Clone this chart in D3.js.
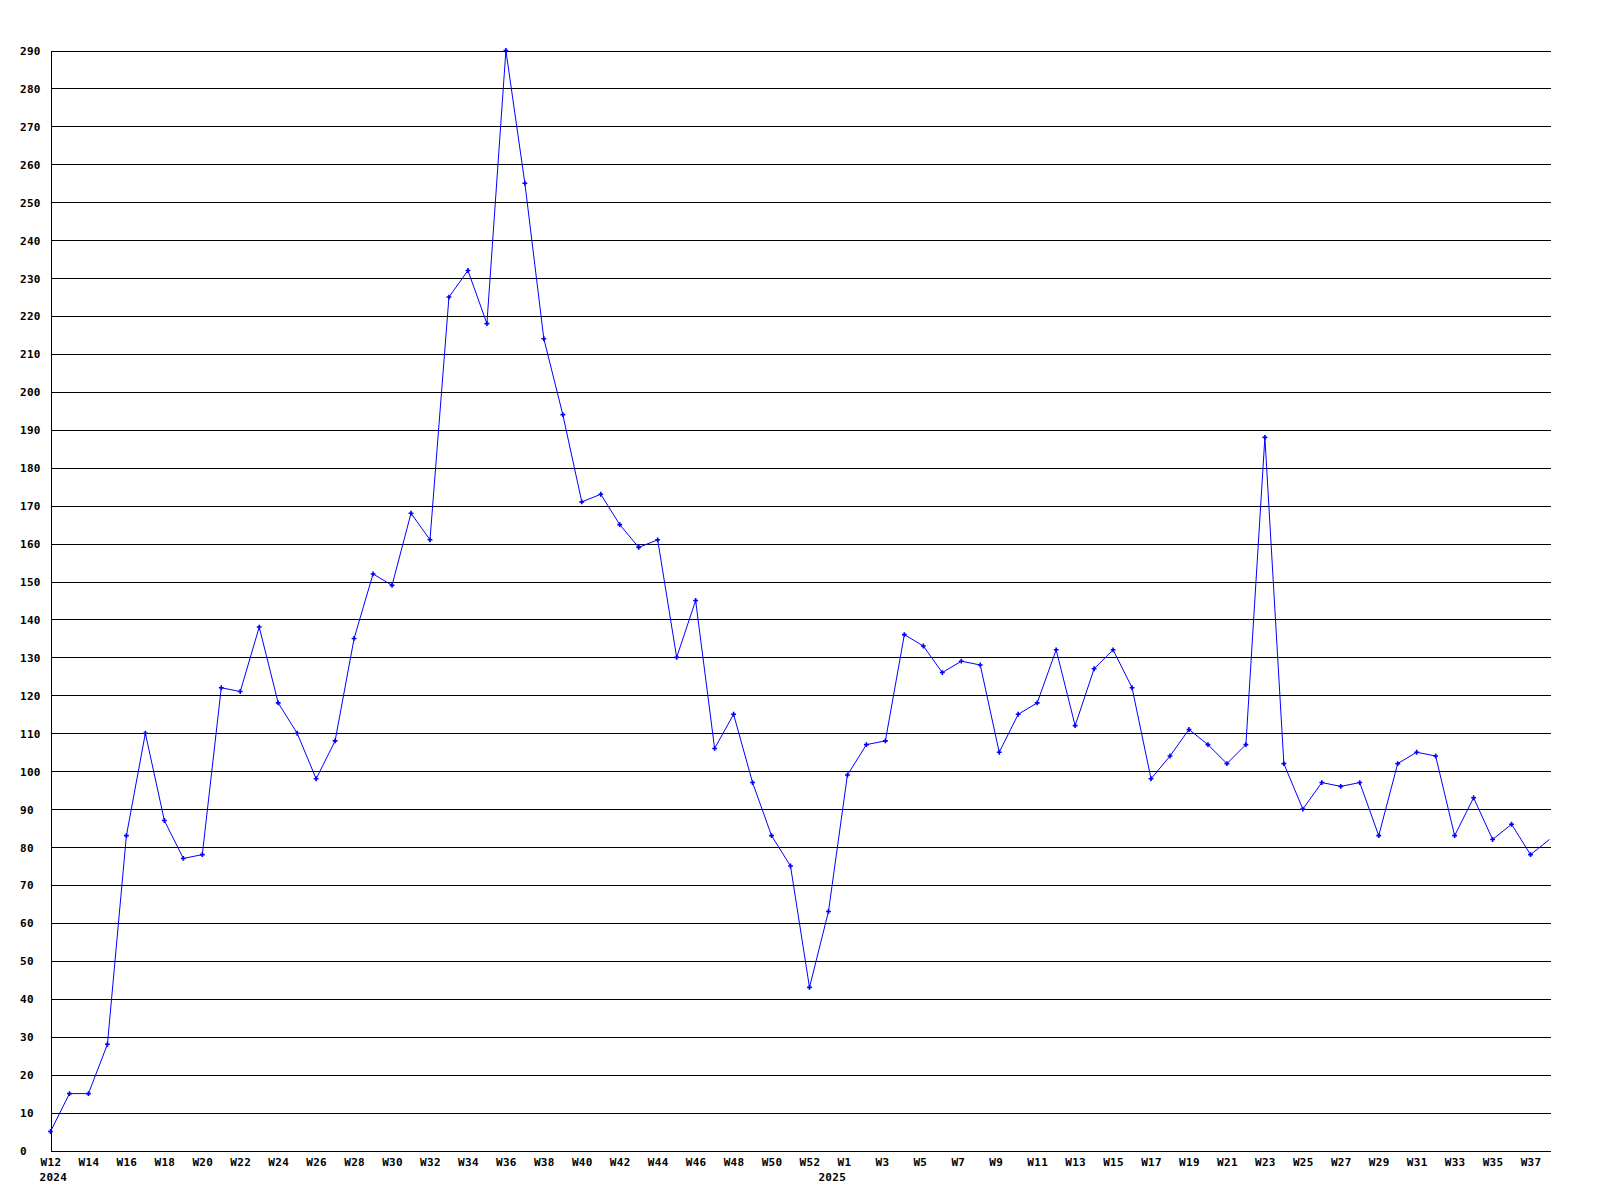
<!DOCTYPE html>
<html>
<head>
<meta charset="utf-8">
<script src="https://cdn.jsdelivr.net/npm/d3@7"></script>
<style>
  html, body { margin: 0; padding: 0; background: #ffffff; }
  svg { display: block; }
  .lbl { font-family: "DejaVu Sans Mono", monospace; font-weight: bold; font-size: 11px; letter-spacing: 0.3px; fill: #000; white-space: pre; }
</style>
</head>
<body>
<svg id="chart" width="1600" height="1200"></svg>
<script>
// ---- data ----
const categories = [
  "2024-W12","2024-W13","2024-W14","2024-W15","2024-W16","2024-W17","2024-W18","2024-W19","2024-W20","2024-W21",
  "2024-W22","2024-W23","2024-W24","2024-W25","2024-W26","2024-W27","2024-W28","2024-W29","2024-W30","2024-W31",
  "2024-W32","2024-W33","2024-W34","2024-W35","2024-W36","2024-W37","2024-W38","2024-W39","2024-W40","2024-W41",
  "2024-W42","2024-W43","2024-W44","2024-W45","2024-W46","2024-W47","2024-W48","2024-W49","2024-W50","2024-W51",
  "2024-W52","2024-W53","2025-W1","2025-W2","2025-W3","2025-W4","2025-W5","2025-W6","2025-W7","2025-W8",
  "2025-W9","2025-W10","2025-W11","2025-W12","2025-W13","2025-W14","2025-W15","2025-W16","2025-W17","2025-W18",
  "2025-W19","2025-W20","2025-W21","2025-W22","2025-W23","2025-W24","2025-W25","2025-W26","2025-W27","2025-W28",
  "2025-W29","2025-W30","2025-W31","2025-W32","2025-W33","2025-W34","2025-W35","2025-W36","2025-W37","2025-W38"
];
const values = [
  5, 15, 15, 28, 83, 110, 87, 77, 78, 122,
  121, 138, 118, 110, 98, 108, 135, 152, 149, 168,
  161, 225, 232, 218, 290, 255, 214, 194, 171, 173,
  165, 159, 161, 130, 145, 106, 115, 97, 83, 75,
  43, 63, 99, 107, 108, 136, 133, 126, 129, 128,
  105, 115, 118, 132, 112, 127, 132, 122, 98, 104,
  111, 107, 102, 107, 188, 102, 90, 97, 96, 97,
  83, 102, 105, 104, 83, 93, 82, 86, 78, 82
];
const xTicks = [
  "2024-W12","2024-W14","2024-W16","2024-W18","2024-W20","2024-W22","2024-W24","2024-W26","2024-W28","2024-W30",
  "2024-W32","2024-W34","2024-W36","2024-W38","2024-W40","2024-W42","2024-W44","2024-W46","2024-W48","2024-W50",
  "2024-W52","2025-W1","2025-W3","2025-W5","2025-W7","2025-W9","2025-W11","2025-W13","2025-W15","2025-W17",
  "2025-W19","2025-W21","2025-W23","2025-W25","2025-W27","2025-W29","2025-W31","2025-W33","2025-W35","2025-W37"
];
const yTicks = [0,10,20,30,40,50,60,70,80,90,100,110,120,130,140,150,160,170,180,190,200,210,220,230,240,250,260,270,280,290];
const yearLabels = ["2024", "2025"];
const yearKeys = ["2024-W12", "2025-W1"];

// ---- layout ----
const plotLeft = 50.5, plotRight = 1551, plotTop = 50.5, plotBottom = 1150.5;
const svg = d3.select("#chart");

const x = d3.scalePoint().domain(categories).range([plotLeft, 1549.5]);
const y = d3.scaleLinear().domain([0, 290]).range([plotBottom, plotTop]);
const step = x.step();

// y axis with gridlines
const yAxis = d3.axisLeft(y)
  .tickValues(yTicks)
  .tickSizeInner(-(plotRight - plotLeft))
  .tickSizeOuter(0)
  .tickFormat(d3.format("d"));
const gy = svg.append("g").attr("transform", `translate(${plotLeft},0)`).call(yAxis);
gy.selectAll(".tick line").attr("stroke", "#000").attr("stroke-width", 1).attr("shape-rendering", "crispEdges");
gy.select(".domain").attr("stroke", "#000").attr("stroke-width", 1).attr("shape-rendering", "crispEdges");
gy.selectAll(".tick text")
  .attr("class", "lbl")
  .attr("text-anchor", "start")
  .attr("x", 20 - plotLeft)
  .attr("dy", "0.36em");
gy.attr("font-family", null).attr("font-size", null);

// x axis labels
const xAxis = d3.axisBottom(x)
  .tickValues(xTicks)
  .tickSize(0)
  .tickPadding(8)
  .tickFormat(k => k.split("-")[1].padEnd(3, " "));
const gx = svg.append("g").attr("transform", `translate(0,${plotBottom})`).call(xAxis);
gx.select(".domain").remove();
gx.selectAll(".tick text").attr("class", "lbl").attr("text-anchor", "middle");
gx.attr("font-family", null).attr("font-size", null);

// year labels
svg.append("g").selectAll("text")
  .data(yearLabels)
  .join("text")
  .attr("class", "lbl")
  .attr("text-anchor", (d, i) => i === 0 ? "start" : "middle")
  .attr("x", (d, i) => i === 0 ? x(yearKeys[i]) - 11 : x(yearKeys[i]) - 0.8 * step)
  .attr("y", plotBottom + 30)
  .text(d => d);

// clip for data
svg.append("clipPath").attr("id", "plotclip")
  .append("rect").attr("x", 0).attr("y", 0).attr("width", plotRight).attr("height", 1200);

const data = categories.map((c, i) => ({ c, v: values[i] }));
const line = d3.line().x(d => x(d.c)).y(d => y(d.v));

const gd = svg.append("g").attr("clip-path", "url(#plotclip)");
gd.append("path")
  .datum(data)
  .attr("d", line)
  .attr("fill", "none")
  .attr("stroke", "#0000ff")
  .attr("stroke-width", 1);

gd.selectAll("path.mk")
  .data(data.slice(0, data.length - 1))
  .join("path")
  .attr("class", "mk")
  .attr("d", d3.symbol(d3.symbolCross, 13))
  .attr("transform", d => `translate(${x(d.c)},${y(d.v)})`)
  .attr("fill", "#0000ff");
</script>
</body>
</html>
